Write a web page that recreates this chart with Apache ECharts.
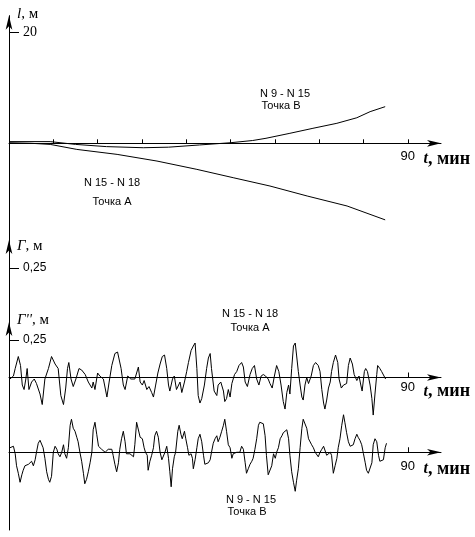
<!DOCTYPE html>
<html>
<head>
<meta charset="utf-8">
<script src="https://cdn.jsdelivr.net/npm/echarts@6/dist/echarts.min.js"></script>
<style>
  html, body { margin: 0; padding: 0; background: #fff; }
  #chart { width: 475px; height: 537px; }
</style>
</head>
<body>
<div id="chart"></div>
<script>
  // t, мин ticks
  var tTicks = [10, 20, 30, 40, 50, 60, 70, 80, 90];
  var tLabels = [90];
  var lTicks = [20];
  var gTicks = [0.25];

  // l, м  (top panel) [t, l]
  var lA = [[0, 0.1], [5, 0.0], [9.3, -0.2], [15.3, -1.1], [24.4, -2.0], [33.4, -3.2], [42.4, -4.7],
    [50.6, -6.2], [58.9, -7.7], [67.3, -9.5], [76.3, -11.3], [84.9, -13.8]];
  var lB = [[0, 0.3], [9.3, 0.3], [15, -0.2], [22, -0.6], [30.3, -0.8], [36, -0.7], [43, -0.3], [50, 0.1],
    [55, 0.5], [58, 0.9], [63.4, 1.8], [68.6, 2.7], [74, 3.6], [78.5, 4.6], [81.5, 5.7], [84.9, 6.6]];

  // Г'', м  N 15 - N 18, точка А [t, г]
  var gA = [[0.2,-0.01],[1.0,0.01],[1.4,0.06],[2.1,0.14],[2.6,0.08],[3.0,-0.05],[3.4,-0.08],[3.8,-0.01],[4.1,0.06],[4.5,-0.08],
    [5.1,-0.03],[5.7,-0.01],[6.2,-0.04],[7.0,-0.11],[7.5,-0.18],[8.1,-0.01],[8.9,0.06],[9.6,0.14],[10.4,0.09],[11.1,0.06],
    [11.7,-0.12],[12.3,-0.18],[12.8,-0.07],[13.2,0.06],[13.5,0.10],[14.0,-0.01],[14.5,-0.06],[15.1,-0.01],[15.8,0.06],[16.4,0.05],
    [17.2,0.02],[17.9,-0.03],[18.7,-0.07],[19.0,-0.03],[19.4,-0.08],[20.0,0.03],[20.5,0.01],[21.3,-0.01],[22.1,-0.13],[22.6,-0.03],
    [23.2,0.08],[23.9,0.16],[24.5,0.17],[25.3,0.06],[25.8,-0.05],[26.2,-0.08],[26.8,0.01],[27.5,-0.01],[28.4,-0.01],[29.2,0.07],
    [29.6,-0.03],[30.1,-0.05],[30.5,-0.02],[31.1,-0.08],[31.6,-0.06],[32.2,-0.10],[32.6,-0.13],[33.1,-0.05],[33.6,0.03],[34.1,0.09],
    [34.6,0.14],[35.1,0.15],[35.6,0.06],[36.0,-0.05],[36.3,-0.09],[36.9,-0.01],[37.3,0.01],[37.8,-0.08],[38.2,-0.07],[38.6,-0.03],
    [39.0,-0.10],[39.6,-0.03],[40.1,0.04],[40.5,0.10],[41.1,0.18],[41.6,0.21],[42.0,0.23],[42.4,0.06],[42.7,-0.12],[43.1,-0.17],
    [43.5,-0.14],[44.1,-0.05],[44.6,0.06],[45.0,0.13],[45.4,0.16],[45.7,0.06],[46.3,-0.09],[46.9,-0.12],[47.2,-0.05],[47.8,-0.03],
    [48.4,-0.09],[48.7,-0.16],[49.1,-0.14],[49.5,-0.08],[49.9,-0.13],[50.3,-0.04],[50.9,0.02],[51.4,0.04],[51.9,0.08],[52.5,0.10],
    [52.9,0.07],[53.3,-0.03],[53.8,-0.06],[54.4,0.02],[54.9,0.06],[55.4,0.08],[55.9,-0.01],[56.4,-0.05],[56.9,0.01],[57.4,0.02],
    [57.9,0.01],[58.5,-0.01],[58.9,-0.04],[59.4,-0.07],[59.9,0.01],[60.4,0.08],[60.9,0.04],[61.4,-0.05],[61.9,-0.16],[62.3,-0.21],
    [62.7,-0.10],[63.1,-0.05],[63.4,-0.11],[63.8,0.06],[64.2,0.21],[64.6,0.23],[64.9,0.15],[65.3,0.04],[65.7,-0.05],[66.1,-0.13],
    [66.4,-0.15],[66.8,-0.05],[67.2,0.00],[67.6,-0.04],[68.2,0.01],[68.7,0.08],[69.2,0.10],[69.8,0.08],[70.2,0.04],[70.6,-0.08],
    [71.0,-0.17],[71.3,-0.21],[71.7,-0.15],[72.1,-0.07],[72.5,-0.03],[72.8,0.04],[73.2,0.10],[73.7,0.15],[74.2,0.10],[74.5,-0.01],
    [75.0,-0.07],[75.5,-0.05],[76.2,-0.04],[76.6,0.08],[77.0,0.13],[77.5,0.09],[77.9,0.02],[78.5,-0.02],[79.0,0.01],[79.4,-0.05],
    [79.7,-0.09],[80.2,0.04],[80.5,0.06],[80.9,0.04],[81.5,-0.05],[81.9,-0.14],[82.2,-0.25],[82.6,-0.11],[83.0,0.02],[83.2,0.08],
    [83.7,0.06],[84.1,0.04],[84.5,0.04],[85.0,-0.01]];

  // N 9 - N 15, точка В [t, г]
  var gB = [[0.2,0.03],[0.6,0.04],[1.0,0.04],[1.4,-0.01],[1.7,-0.09],[2.1,-0.14],[2.5,-0.20],[2.9,-0.15],[3.2,-0.12],[3.6,-0.09],
    [4.4,-0.08],[4.7,-0.08],[5.1,-0.06],[5.5,-0.09],[5.9,-0.05],[6.2,0.00],[6.6,0.06],[7.0,0.08],[7.4,0.08],[7.7,0.03],
    [8.1,-0.04],[8.5,-0.13],[8.9,-0.18],[9.2,-0.20],[9.6,-0.16],[10.0,0.00],[10.4,0.04],[10.8,0.02],[11.1,-0.01],[11.5,-0.03],
    [11.9,0.00],[12.3,0.05],[12.6,-0.01],[13.0,-0.04],[13.4,0.03],[13.8,0.18],[14.1,0.22],[14.5,0.16],[14.9,0.14],[15.3,0.10],
    [15.6,0.07],[16.0,0.00],[16.4,-0.06],[16.8,-0.14],[17.1,-0.21],[17.5,-0.18],[17.9,-0.13],[18.3,-0.07],[18.7,0.00],[19.0,0.15],
    [19.4,0.20],[19.8,0.12],[20.2,0.04],[20.5,0.04],[20.9,0.02],[21.3,0.03],[21.7,0.00],[22.0,-0.01],[22.4,0.02],[22.8,0.03],
    [23.2,0.02],[23.5,-0.02],[23.9,-0.08],[24.3,-0.13],[24.7,-0.07],[25.0,0.02],[25.4,0.09],[25.8,0.14],[26.2,0.07],[26.5,-0.01],
    [26.9,-0.02],[27.3,-0.01],[27.7,-0.01],[28.1,-0.03],[28.4,0.05],[28.8,0.20],[29.2,0.21],[29.6,0.10],[30.1,0.09],[30.5,0.03],
    [30.8,0.00],[31.2,-0.02],[31.4,-0.12],[31.8,-0.06],[32.2,-0.02],[32.6,0.03],[32.9,0.11],[33.3,0.14],[33.7,0.10],[34.1,0.00],
    [34.5,-0.05],[34.8,-0.06],[35.2,0.00],[35.6,0.04],[36.0,-0.04],[36.3,-0.13],[36.6,-0.23],[36.9,-0.11],[37.3,-0.03],[37.6,0.00],
    [38.1,0.14],[38.4,0.18],[38.8,0.12],[39.1,0.09],[39.6,0.14],[39.9,0.09],[40.3,0.03],[40.6,-0.02],[41.1,-0.01],[41.4,-0.04],
    [41.6,-0.11],[42.0,-0.05],[42.4,0.03],[42.7,0.09],[43.1,0.12],[43.5,0.07],[43.9,-0.02],[44.2,-0.08],[44.6,-0.09],[45.0,-0.07],
    [45.4,-0.05],[45.7,0.00],[46.1,0.06],[46.5,0.09],[46.9,0.11],[47.2,0.07],[47.6,0.10],[48.0,0.14],[48.4,0.18],[48.7,0.22],
    [49.1,0.14],[49.5,0.05],[49.9,0.03],[50.3,-0.04],[50.6,-0.01],[51.0,-0.01],[51.4,0.00],[51.8,-0.01],[52.1,0.00],[52.5,0.04],
    [52.9,0.02],[53.3,-0.07],[53.6,-0.14],[54.0,-0.11],[54.4,-0.08],[54.8,-0.06],[55.1,-0.04],[55.5,0.02],[55.9,0.09],[56.3,0.18],
    [56.6,0.20],[57.0,0.21],[57.4,0.19],[57.8,0.11],[58.1,-0.02],[58.5,-0.15],[58.9,-0.14],[59.3,-0.09],[59.7,-0.01],[60.1,-0.04],
    [60.4,0.00],[60.8,0.03],[61.2,0.09],[61.6,0.11],[61.9,0.13],[62.3,0.14],[62.7,0.15],[63.1,0.09],[63.4,-0.02],[63.8,-0.13],
    [64.2,-0.20],[64.6,-0.26],[64.9,-0.19],[65.3,-0.11],[65.7,0.03],[66.1,0.16],[66.4,0.22],[66.8,0.21],[67.2,0.16],[67.6,0.09],
    [68.0,0.08],[68.3,0.05],[68.7,0.03],[69.1,0.00],[69.4,-0.01],[69.8,-0.03],[70.2,0.00],[70.6,0.02],[71.0,0.04],[71.3,0.03],
    [71.7,-0.02],[72.1,-0.01],[72.5,0.00],[72.8,-0.02],[73.2,-0.14],[73.6,-0.09],[74.0,-0.04],[74.3,0.03],[74.7,0.09],[75.1,0.18],
    [75.5,0.25],[75.8,0.20],[76.2,0.13],[76.6,0.07],[77.0,0.04],[77.3,0.03],[77.7,0.05],[78.1,0.09],[78.5,0.12],[78.8,0.10],
    [79.2,0.08],[79.6,0.05],[80.0,-0.01],[80.4,-0.07],[80.7,-0.12],[81.1,-0.14],[81.5,-0.13],[81.9,-0.07],[82.2,0.05],[82.6,0.09],
    [83.0,0.07],[83.4,-0.02],[83.7,-0.06],[84.1,-0.07],[84.5,-0.05],[84.9,0.03],[85.2,0.06]];

  var SANS = 'Liberation Sans';
  var SERIF = 'Liberation Serif';
  var comma = function (v) { return String(v).replace('.', ','); };

  // x axis "t, мин"; offset lifts the axis from the grid bottom to the zero level
  function tAxis(gridIndex, opts) {
    return {
      type: 'value', gridIndex: gridIndex, min: 0, max: 97.5,
      show: opts.show !== false,
      offset: opts.offset || 0,
      splitLine: {show: false},
      axisLine: {onZero: false, lineStyle: {color: '#000', width: 1}, symbol: ['none', 'arrow'], symbolSize: [5, 14]},
      axisTick: {inside: true, length: opts.tickLen, customValues: opts.ticks, lineStyle: {color: '#000'}},
      axisLabel: {customValues: tLabels, margin: opts.labelMargin, color: '#000', fontFamily: SANS, fontSize: 13},
      name: '{i|t}, мин',
      nameLocation: 'end',
      nameGap: 29,
      nameTextStyle: {
        color: '#000', fontFamily: SERIF, fontSize: 18, fontWeight: 'bold',
        align: 'right', verticalAlign: 'top', padding: [opts.namePad, 0, 0, 0],
        rich: {i: {fontFamily: SERIF, fontStyle: 'italic', fontSize: 16, fontWeight: 'bold', color: '#000'}}
      }
    };
  }

  // vertical axis
  function vAxis(gridIndex, min, max, opts) {
    return {
      type: 'value', gridIndex: gridIndex, min: min, max: max,
      splitLine: {show: false},
      axisLine: {lineStyle: {color: '#000', width: 1}, symbol: opts.arrow ? ['none', 'arrow'] : 'none', symbolSize: [5, 14]},
      axisTick: {show: !!opts.ticks, inside: true, length: 10, customValues: opts.ticks || [], lineStyle: {color: '#000'}},
      axisLabel: {
        show: !!opts.ticks, inside: true, margin: 14, customValues: opts.ticks || [],
        color: '#000', fontFamily: opts.labelFont || SANS, fontSize: opts.labelSize || 12,
        formatter: comma
      },
      name: opts.name || '',
      nameLocation: 'end',
      nameGap: opts.nameGap || 0,
      nameTextStyle: {
        color: '#000', fontFamily: SERIF, fontSize: 15,
        align: 'left', verticalAlign: 'middle', padding: [0, 0, 0, 8],
        rich: {i: {fontFamily: SERIF, fontStyle: 'italic', fontSize: 15, color: '#000'}}
      }
    };
  }

  function line(xi, data) {
    return {
      type: 'line', xAxisIndex: xi, yAxisIndex: xi, data: data,
      symbol: 'none', clip: false, animation: false,
      lineStyle: {color: '#000', width: 1}
    };
  }

  function note(x, y, text) {
    return {
      type: 'text', x: x, y: y,
      style: {text: text, fill: '#000', font: '11px "Liberation Sans"', align: 'center', verticalAlign: 'middle'}
    };
  }

  var chart = echarts.init(document.getElementById('chart'));
  chart.setOption({
    animation: false,
    backgroundColor: '#fff',
    grid: [
      {left: 9, width: 432, top: 15.65, height: 224.2, outerBoundsMode: 'none'},
      {left: 9, width: 432, top: 240, height: 82, outerBoundsMode: 'none'},
      {left: 9, width: 432, top: 322, height: 92, outerBoundsMode: 'none'},
      {left: 9, width: 432, top: 414, height: 116, outerBoundsMode: 'none'}
    ],
    xAxis: [
      tAxis(0, {offset: -96.55, ticks: tTicks, tickLen: 4, labelMargin: 7, namePad: 7}),
      tAxis(1, {show: false, ticks: [], tickLen: 0, labelMargin: 0, namePad: 0}),
      tAxis(2, {offset: -36.5, ticks: tLabels, tickLen: 5, labelMargin: 3, namePad: 5}),
      tAxis(3, {offset: -77.75, ticks: tLabels, tickLen: 5, labelMargin: 8, namePad: 8})
    ],
    yAxis: [
      vAxis(0, -17.4, 23, {arrow: true, ticks: lTicks, labelFont: SERIF, labelSize: 14, name: '{i|l}, м', nameGap: 2}),
      vAxis(1, -0.105, 0.434, {arrow: true, ticks: gTicks, name: '{i|Г}, м', nameGap: -6}),
      vAxis(2, -0.243, 0.37, {arrow: true, ticks: gTicks, name: "{i|Г''}, м", nameGap: 2}),
      vAxis(3, -0.518, 0.255, {arrow: false})
    ],
    series: [
      line(0, lA),
      line(0, lB),
      line(2, gA),
      line(3, gB)
    ],
    graphic: [
      note(285, 94, 'N 9 - N 15'),
      note(281, 106, 'Точка В'),
      note(112, 183, 'N 15 - N 18'),
      note(112, 202, 'Точка А'),
      note(250, 314, 'N 15 - N 18'),
      note(250, 328, 'Точка А'),
      note(251, 500, 'N 9 - N 15'),
      note(247, 512, 'Точка В')
    ]
  });
</script>
</body>
</html>
